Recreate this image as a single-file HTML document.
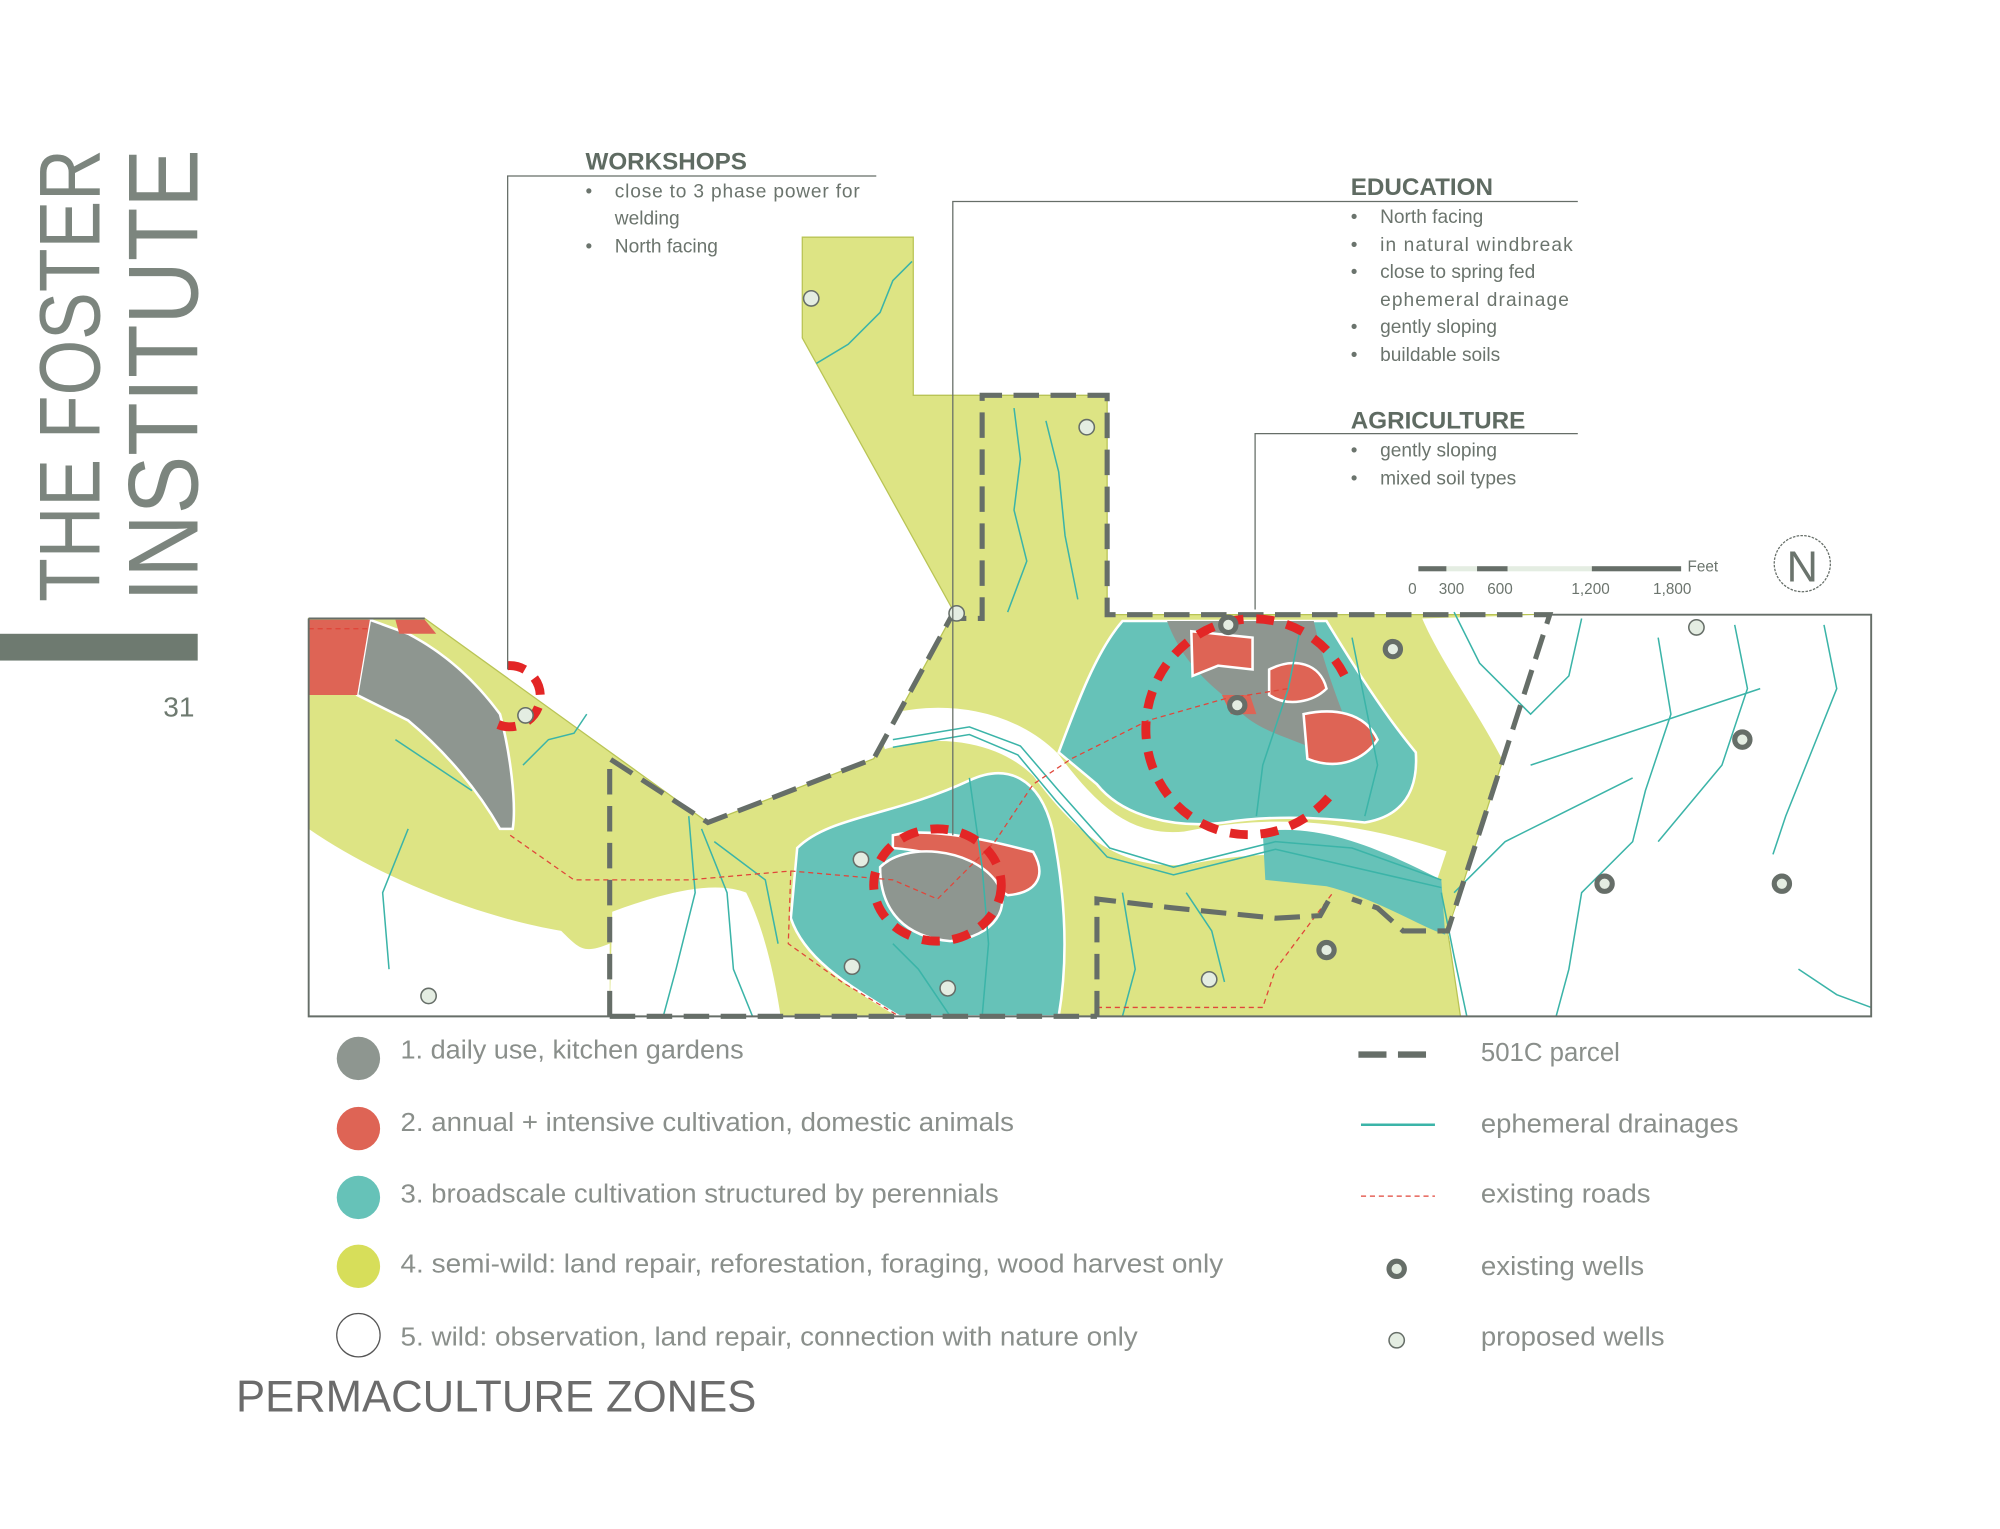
<!DOCTYPE html>
<html><head><meta charset="utf-8"><style>
html,body{margin:0;padding:0;background:#fff;}
svg{display:block;}
text{font-family:"Liberation Sans",sans-serif;}
</style></head><body>
<svg width="2000" height="1529" viewBox="0 0 1568 1199" preserveAspectRatio="none" xmlns="http://www.w3.org/2000/svg">
<rect width="1568" height="1199" fill="#fff"/>
<!-- title -->
<text transform="translate(78,472) rotate(-90)" font-size="68" fill="#7c857e" textLength="355" lengthAdjust="spacingAndGlyphs">THE FOSTER</text>
<text transform="translate(155,472) rotate(-90)" font-size="78" fill="#7c857e" textLength="355" lengthAdjust="spacingAndGlyphs">INSTITUTE</text>
<rect x="0" y="497" width="155" height="21" fill="#6e7a70"/>
<text x="128" y="562" font-size="22" fill="#6e7a70">31</text>

<!-- map -->
<g>
<path d="M242,485 L333,485 L555,645 L685,595 L748,480 L629,265 L629,186 L716,186 L716,310 L868,310 L868,482 L1215,482 L1135,730 L1145,797 L242,797 Z" fill="#dde484" stroke="#b9c455" stroke-width="1"/>
<path d="M242,650 C300,690 380,720 440,730 C455,745 458,748 478,740 L478,797 L242,797 Z" fill="#fff"/>
<path d="M478,797 L480,715 C520,700 560,690 585,700 C600,730 608,770 612,797 Z" fill="#fff"/>
<path d="M1215,482 L1467,482 L1467,797 L1150,797 L1135,730 L1180,600 C1160,560 1130,520 1115,485 Z" fill="#fff"/>
<path d="M690,575 C740,560 790,570 820,600 C850,640 880,670 930,665 C980,655 1040,650 1130,680" fill="none" stroke="#fff" stroke-width="26"/>
<path d="M625,665 C650,640 700,640 760,612 C790,598 815,610 825,650 C835,700 838,750 830,797 L705,797 C660,770 630,750 620,720 Z" fill="#66c2b8" stroke="#fff" stroke-width="2"/>
<path d="M830,590 C845,550 860,510 880,487 L1040,487 C1060,520 1085,560 1110,590 C1112,620 1100,640 1070,645 C1030,640 990,640 960,645 C920,650 880,640 860,615 Z" fill="#66c2b8" stroke="#fff" stroke-width="2"/>
<path d="M990,652 C1040,645 1090,670 1130,690 L1133,733 C1110,725 1080,705 1040,695 L992,690 Z" fill="#66c2b8"/>
<path d="M290,486 L320,497 C345,510 370,530 392,560 C400,590 405,630 402,650 L392,650 C375,620 350,590 320,565 L280,545 Z" fill="#8e9690" stroke="#fff" stroke-width="2"/>
<path d="M242,486 L290,486 L280,545 L242,545 Z" fill="#de6455"/>
<path d="M310,486 L333,486 L342,497 L313,497 Z" fill="#de6455"/>
<path d="M700,655 C730,648 780,660 810,668 C820,685 815,700 790,702 C770,690 760,670 700,665 Z" fill="#de6455" stroke="#fff" stroke-width="2"/>
<path d="M690,680 C710,660 760,665 780,690 C795,710 780,735 745,738 C710,735 690,715 690,680 Z" fill="#8e9690" stroke="#fff" stroke-width="2"/>
<path d="M915,487 L1030,487 C1035,510 1045,540 1055,565 C1055,590 1045,600 1025,585 C1000,575 980,570 965,550 C945,535 925,515 915,487 Z" fill="#8e9690"/>
<path d="M934,495 L982,500 L982,525 L955,522 L935,530 Z" fill="#de6455" stroke="#fff" stroke-width="2"/>
<path d="M995,525 C1015,515 1035,520 1040,540 C1030,550 1010,555 995,545 Z" fill="#de6455" stroke="#fff" stroke-width="2"/>
<path d="M1022,560 C1045,555 1070,558 1080,580 C1070,595 1050,605 1025,595 Z" fill="#de6455" stroke="#fff" stroke-width="2"/>
<path d="M958,545 L980,545 L985,560 L965,560 Z" fill="#de6455"/>
<g fill="none" stroke="#3bb4a8" stroke-width="1.2">
<path d="M640,285 L665,270 L690,245 L700,220 L715,205"/>
<path d="M795,320 L800,360 L795,400 L805,440 L790,480"/>
<path d="M820,330 L830,370 L835,420 L845,470"/>
<path d="M700,580 L760,570 L800,585 L830,620 L870,665 L920,680 L1000,660 L1060,665 L1130,690"/>
<path d="M700,586 L760,576 L798,592 L828,628 L868,672 L920,686 L1000,666 L1130,696"/>
<path d="M540,640 L545,700 L530,760 L520,797"/>
<path d="M550,650 L570,700 L575,760 L590,797"/>
<path d="M560,660 L600,690 L610,740"/>
<path d="M410,600 L430,580 L450,575 L460,560"/>
<path d="M320,650 L300,700 L305,760"/>
<path d="M310,580 L340,600 L370,620"/>
<path d="M700,740 L720,760 L745,797"/>
<path d="M760,610 L770,680 L775,740 L770,797"/>
<path d="M880,700 L890,760 L880,797"/>
<path d="M930,700 L950,730 L960,770"/>
<path d="M1020,490 L1010,540 L990,600 L985,640"/>
<path d="M1060,500 L1070,550 L1080,600 L1070,640"/>
<path d="M1140,480 L1160,520 L1200,560 L1230,530 L1240,485"/>
<path d="M1300,500 L1310,560 L1290,620 L1280,660 L1240,700 L1230,760 L1220,797"/>
<path d="M1360,490 L1370,540 L1350,600 L1300,660"/>
<path d="M1430,490 L1440,540 L1420,590 L1400,640 L1390,670"/>
<path d="M1200,600 L1260,580 L1320,560 L1380,540"/>
<path d="M1140,700 L1180,660 L1220,640 L1280,610"/>
<path d="M1410,760 L1440,780 L1467,790"/>
<path d="M1130,700 L1140,750 L1150,797"/>
</g>
<g fill="none" stroke="#e0463a" stroke-width="1" stroke-dasharray="4,3">
<path d="M242,493 L290,493"/>
<path d="M400,655 L450,690 L540,690 L620,683 L700,690 L735,705 L780,660 L810,615 L840,595 L900,565 L960,548 L1010,540"/>
<path d="M620,683 L618,740 L660,770 L705,797"/>
<path d="M860,790 L990,790 L1000,760 L1045,700"/>
</g>
<path d="M478,797 L478,595 L555,645 L685,595 L745,485 L770,485 L770,310 L868,310 L868,482 L1215,482 L1135,730 L1100,730 L1080,712 L1060,705 M860,797 L860,705 L920,712 L1000,720 L1035,718 L1045,700 M478,797 L860,797" fill="none" stroke="#666e68" stroke-width="4" stroke-dasharray="20,9"/>
<path d="M242,485 L242,797 L1467,797 L1467,482 L1215,482 M242,485 L333,485" fill="none" stroke="#666e68" stroke-width="1.5"/>
<g fill="none" stroke="#e32626" stroke-width="7" stroke-dasharray="14,10">
<path d="M398,522 A24,24 0 1,1 385,565"/>
<ellipse cx="735" cy="694" rx="50" ry="44"/>
<path d="M1062,600 A82,85 0 1,1 1045,510" transform="rotate(20,980,555)"/>
</g>
<g fill="#e4ede2" stroke="#666e68" stroke-width="4">
<circle cx="1092" cy="509" r="6"/><circle cx="1366" cy="580" r="6"/><circle cx="1258" cy="693" r="6"/><circle cx="1397" cy="693" r="6"/><circle cx="1040" cy="745" r="6"/><circle cx="970" cy="553" r="6"/><circle cx="963" cy="490" r="6"/>
</g>
<g fill="#e4ede2" stroke="#666e68" stroke-width="1.2">
<circle cx="636" cy="234" r="6"/><circle cx="852" cy="335" r="6"/><circle cx="750" cy="481" r="6"/><circle cx="412" cy="561" r="6"/><circle cx="336" cy="781" r="6"/><circle cx="675" cy="674" r="6"/><circle cx="668" cy="758" r="6"/><circle cx="743" cy="775" r="6"/><circle cx="948" cy="768" r="6"/><circle cx="1330" cy="492" r="6"/>
</g>
</g>

<g fill="none" stroke="#666e68" stroke-width="1">
<path d="M687,138 L398,138 L398,525"/>
<path d="M1237,158 L747,158 L747,655"/>
<path d="M1237,340 L984,340 L984,478"/>
</g>
<g fill="#5f6b62">
<text x="459" y="133" font-size="19" font-weight="bold">WORKSHOPS</text>
<text x="1059" y="153" font-size="19" font-weight="bold">EDUCATION</text>
<text x="1059" y="336" font-size="19" font-weight="bold">AGRICULTURE</text>
</g>
<g fill="#6b746d" font-size="15">
<text x="459" y="155">•</text><text x="482" y="155" textLength="192">close to 3 phase power for</text>
<text x="482" y="176">welding</text>
<text x="459" y="198">•</text><text x="482" y="198">North facing</text>
<text x="1059" y="175">•</text><text x="1082" y="175">North facing</text>
<text x="1059" y="197">•</text><text x="1082" y="197" textLength="151">in natural windbreak</text>
<text x="1059" y="218">•</text><text x="1082" y="218">close to spring fed</text>
<text x="1082" y="240" textLength="148">ephemeral drainage</text>
<text x="1059" y="261">•</text><text x="1082" y="261">gently sloping</text>
<text x="1059" y="283">•</text><text x="1082" y="283">buildable soils</text>
<text x="1059" y="358">•</text><text x="1082" y="358">gently sloping</text>
<text x="1059" y="380">•</text><text x="1082" y="380">mixed soil types</text>
</g>

<rect x="1112" y="444" width="22" height="4" fill="#666e68"/>
<rect x="1134" y="444" width="24" height="4" fill="#e4ede2"/>
<rect x="1158" y="444" width="24" height="4" fill="#666e68"/>
<rect x="1182" y="444" width="66" height="4" fill="#e4ede2"/>
<rect x="1248" y="444" width="70" height="4" fill="#666e68"/>
<g fill="#6b746d" font-size="12">
<text x="1323" y="448">Feet</text>
<text x="1104" y="466">0</text><text x="1128" y="466">300</text><text x="1166" y="466">600</text><text x="1232" y="466">1,200</text><text x="1296" y="466">1,800</text>
</g>
<circle cx="1413" cy="442" r="22" fill="none" stroke="#666e68" stroke-width="1" stroke-dasharray="2,1"/>
<text x="1413" y="456" font-size="34" fill="#6b746d" text-anchor="middle">N</text>

<circle cx="281" cy="830" r="17" fill="#8e9690"/>
<circle cx="281" cy="885" r="17" fill="#de6455"/>
<circle cx="281" cy="939" r="17" fill="#66c2b8"/>
<circle cx="281" cy="993" r="17" fill="#d7de5a"/>
<circle cx="281" cy="1047" r="17" fill="#fff" stroke="#555" stroke-width="1"/>
<g fill="#8a8f8b" font-size="20" lengthAdjust="spacingAndGlyphs">
<text x="314" y="830" textLength="269" lengthAdjust="spacingAndGlyphs">1. daily use, kitchen gardens</text>
<text x="314" y="887" textLength="481" lengthAdjust="spacingAndGlyphs">2. annual + intensive cultivation, domestic animals</text>
<text x="314" y="943" textLength="469" lengthAdjust="spacingAndGlyphs">3. broadscale cultivation structured by perennials</text>
<text x="314" y="998" textLength="645" lengthAdjust="spacingAndGlyphs">4. semi-wild: land repair, reforestation, foraging, wood harvest only</text>
<text x="314" y="1055" textLength="578" lengthAdjust="spacingAndGlyphs">5. wild: observation, land repair, connection with nature only</text>
<text x="1161" y="832" textLength="109" lengthAdjust="spacingAndGlyphs">501C parcel</text>
<text x="1161" y="888" textLength="202" lengthAdjust="spacingAndGlyphs">ephemeral drainages</text>
<text x="1161" y="943" textLength="133" lengthAdjust="spacingAndGlyphs">existing roads</text>
<text x="1161" y="1000" textLength="128" lengthAdjust="spacingAndGlyphs">existing wells</text>
<text x="1161" y="1055" textLength="144" lengthAdjust="spacingAndGlyphs">proposed wells</text>
</g>
<path d="M1065,827 L1125,827" stroke="#666e68" stroke-width="5" stroke-dasharray="22,9"/>
<path d="M1067,882 L1125,882" stroke="#3bb4a8" stroke-width="2"/>
<path d="M1067,938 L1125,938" stroke="#e0463a" stroke-width="1" stroke-dasharray="4,3"/>
<circle cx="1095" cy="995" r="6" fill="#e4ede2" stroke="#666e68" stroke-width="4"/>
<circle cx="1095" cy="1051" r="6" fill="#e4ede2" stroke="#666e68" stroke-width="1.2"/>
<text x="185" y="1107" font-size="35" fill="#6b6b6b" textLength="408" lengthAdjust="spacingAndGlyphs">PERMACULTURE  ZONES</text>
</svg>
</body></html>
